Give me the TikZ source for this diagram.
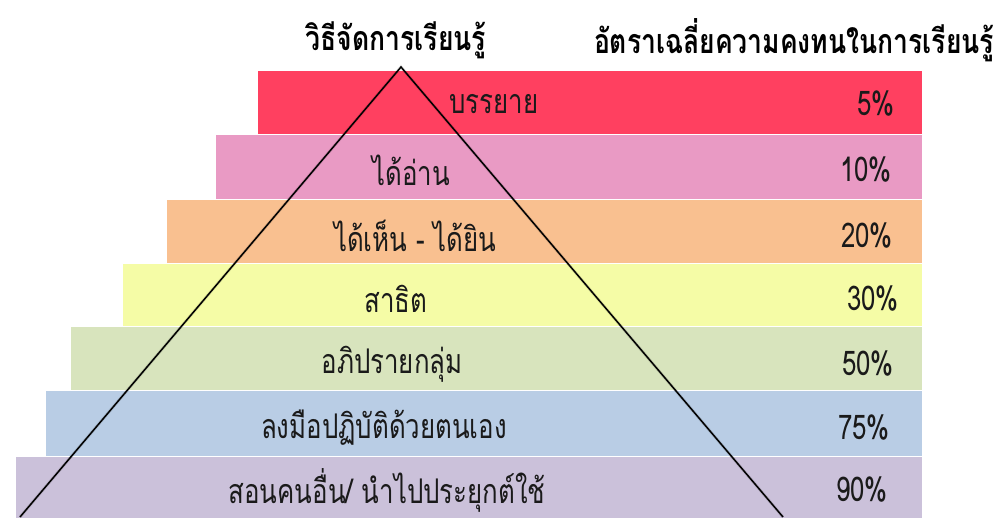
\documentclass[tikz,border=0pt]{standalone}
\usepackage{fontspec}
\newfontfamily\thai[Script=Thai, FakeStretch=0.76]{Loma}
\newfontfamily\thaihead[Script=Thai, FakeStretch=0.78]{Loma}
\usepackage{tikz}
\definecolor{Lecture}{HTML}{FF4060}
\definecolor{Reading}{HTML}{E99AC4}
\definecolor{AudioVis}{HTML}{F9C090}
\definecolor{Demo}{HTML}{F5FCA6}
\definecolor{Discuss}{HTML}{D8E4BD}
\definecolor{Practice}{HTML}{B9CDE5}
\definecolor{Teach}{HTML}{CBC1DA}
\definecolor{Ink}{HTML}{1A1A1A}

\begin{document}
\begin{tikzpicture}[x=1pt, y=-1pt, font=\thai\fontsize{34}{40}\selectfont, text=Ink,
    head/.style={font=\thaihead\bfseries\fontsize{34}{40}\selectfont, text=black},
    bar/.style={draw=white, line width=0.8pt, inner sep=0pt, outer sep=0pt},
    pct/.style={anchor=east, inner xsep=0pt}]
    \useasboundingbox (0, 0) rectangle (999, 517);
    \node[head] (method) at (396, 40) {วิธีจัดการเรียนรู้};
    \node[head] (rate) at (794, 40) {อัตราเฉลี่ยความคงทนในการเรียนรู้};
    % bars of the pyramid
    \foreach \i/\x/\ya/\yb/\col in {1/257/70/134/Lecture, 2/215/134/199/Reading,
        3/166/199/263/AudioVis, 4/122/263/326/Demo, 5/70/326/390/Discuss,
        6/45/390/456/Practice, 7/15/456/518/Teach} {
        \fill[\col] (\x, \ya) rectangle (922, \yb);
        \draw[bar] (\x, \ya) rectangle (922, \yb);
    }
    % the triangle, with its faint shadow
    \coordinate (apex) at (401, 67);
    \coordinate (baseL) at (20, 517);
    \coordinate (baseR) at (783, 517);
    \draw[line width=3pt, black, opacity=0.12, xshift=1.5pt, yshift=-1.5pt]
        (baseL) -- (apex) -- (baseR);
    \draw[line width=1.5pt] (baseL) -- (apex) -- (baseR);
    % labels
    \foreach \i/\tx/\y/\txt/\px/\pc in {1/494/104/บรรยาย/895/5\%,
        2/411/170/ได้อ่าน/892/10\%, 3/415/236/{ได้เห็น - ได้ยิน}/893/20\%,
        4/396/299/สาธิต/899/30\%, 5/392/364/อภิปรายกลุ่ม/894/50\%,
        6/384/428/ลงมือปฏิบัติด้วยตนเอง/890/75\%,
        7/387/490/{สอนคนอื่น/ นำไปประยุกต์ใช้}/888/90\%} {
        \node (txt\i) at (\tx, \y) {\txt};
        \node[pct] (pc\i) at (\px, \y) {\pc};
    }
\end{tikzpicture}
\end{document}
